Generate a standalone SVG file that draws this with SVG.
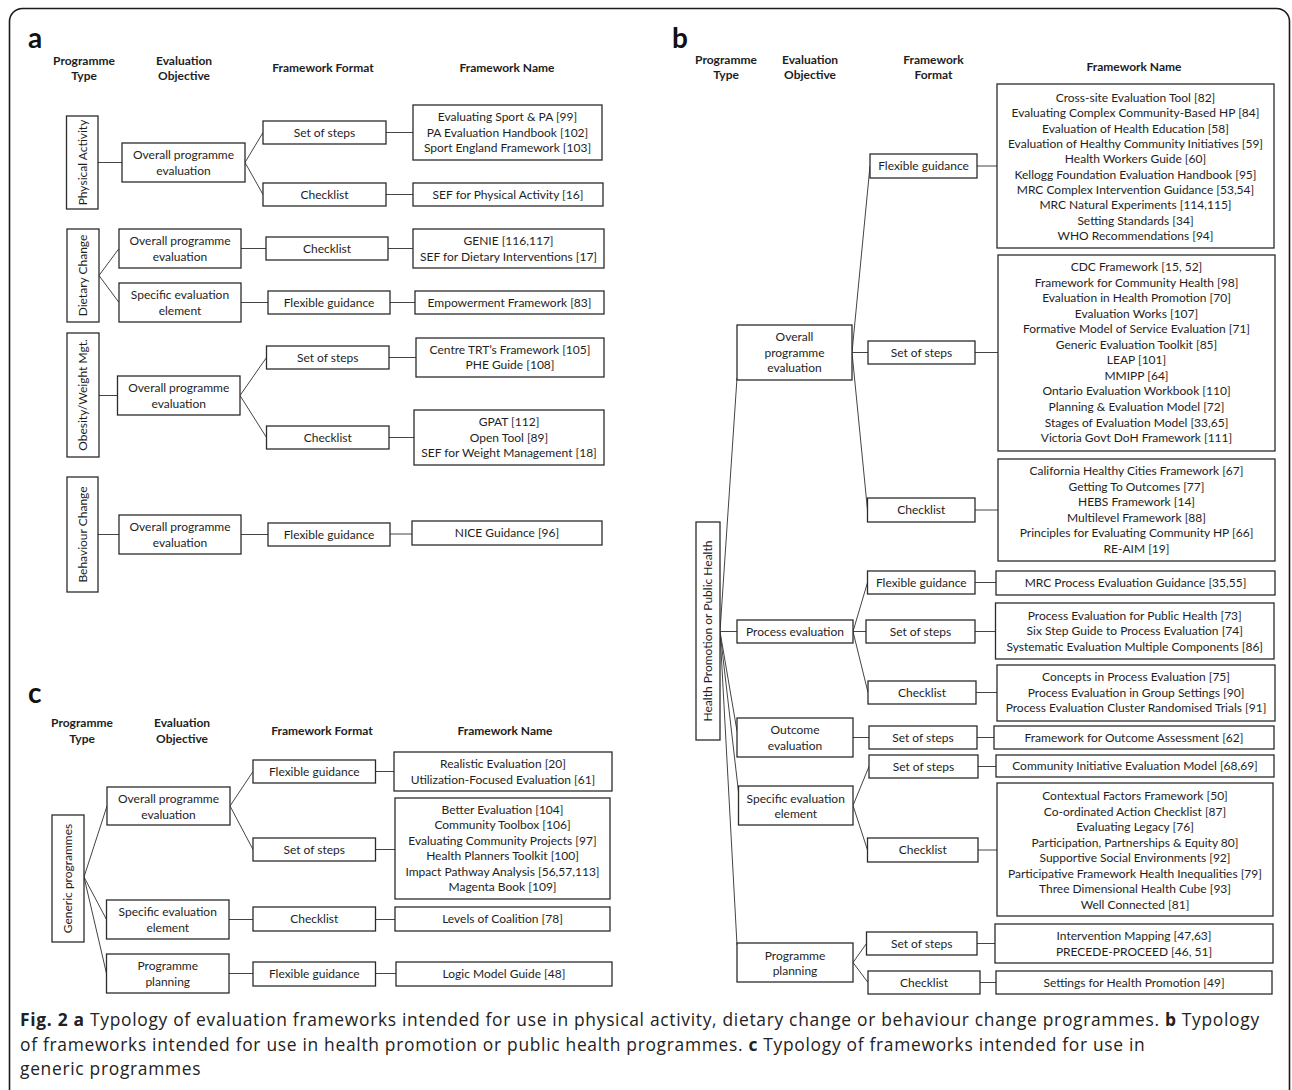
<svg xmlns="http://www.w3.org/2000/svg" width="1292" height="1090" viewBox="0 0 1292 1090">
<style>
.bg{fill:#ffffff}
.frame{fill:none;stroke:#1a1a1a;stroke-width:1.6}
.box{fill:#ffffff;stroke:#2b2b2b;stroke-width:1.3}
.t{font-family:Lato,"Liberation Sans",sans-serif;font-size:12px;fill:#1e1e1e;text-anchor:middle}
.h{font-family:Lato,"Liberation Sans",sans-serif;font-size:12px;font-weight:bold;fill:#1e1e1e;text-anchor:middle}
.lbl{font-family:Lato,"Liberation Sans",sans-serif;font-size:28px;font-weight:bold;fill:#111}
.cap{font-family:"Open Sans","Noto Sans",sans-serif;font-size:17.4px;letter-spacing:0.7px;fill:#222}
.capb{font-weight:bold}
.conn line{stroke:#444;stroke-width:1;fill:none}
</style>
<rect class="bg" x="0" y="0" width="1292" height="1090"/>
<rect class="frame" x="9.5" y="8.5" width="1280" height="1100" rx="13"/>

<!-- ===== Panel a ===== -->
<g id="panel-a-headers">
<text class="lbl" x="28" y="48">a</text>
<text class="h" x="84" y="65">Programme<tspan x="84" dy="15">Type</tspan></text>
<text class="h" x="184" y="65">Evaluation<tspan x="184" dy="15">Objective</tspan></text>
<text class="h" x="323" y="72">Framework Format</text>
<text class="h" x="507" y="72">Framework Name</text>
</g>

<g class="conn" id="connectors-a">
<line x1="98" y1="162.5" x2="122" y2="162.5"/>
<line x1="245" y1="162.5" x2="263" y2="132.5"/>
<line x1="245" y1="162.5" x2="263" y2="194.5"/>
<line x1="386" y1="132.5" x2="413" y2="132.5"/>
<line x1="386" y1="194.5" x2="413" y2="194.5"/>
<line x1="99" y1="275.5" x2="119" y2="248.5"/>
<line x1="99" y1="275.5" x2="119" y2="302.5"/>
<line x1="241" y1="248.5" x2="266" y2="248.5"/>
<line x1="388" y1="248.5" x2="413" y2="248.5"/>
<line x1="241" y1="302.5" x2="268" y2="302.5"/>
<line x1="390" y1="302.5" x2="415" y2="302.5"/>
<line x1="99" y1="395.5" x2="117.5" y2="395.5"/>
<line x1="240" y1="395.5" x2="266.5" y2="357.5"/>
<line x1="240" y1="395.5" x2="266.5" y2="437.5"/>
<line x1="389" y1="357.5" x2="416" y2="357.5"/>
<line x1="389" y1="437.5" x2="414" y2="437.5"/>
<line x1="98" y1="534.5" x2="119" y2="534.5"/>
<line x1="241" y1="534.5" x2="268" y2="534.5"/>
<line x1="390" y1="534" x2="412" y2="534"/>
</g>

<g id="a-pa-type"><rect class="box" x="66.5" y="116" width="31.5" height="93"/><text class="t" transform="translate(86.5,162.5) rotate(-90)">Physical Activity</text></g>
<g id="a-pa-overall"><rect class="box" x="122" y="143" width="123" height="39"/><text class="t" x="183.5" y="159">Overall programme<tspan x="183.5" dy="15.5">evaluation</tspan></text></g>
<g id="a-pa-steps"><rect class="box" x="263" y="121" width="123" height="23"/><text class="t" x="324.5" y="136.5">Set of steps</text></g>
<g id="a-pa-checklist"><rect class="box" x="263" y="183" width="123" height="23"/><text class="t" x="324.5" y="198.5">Checklist</text></g>
<g id="a-pa-names1"><rect class="box" x="413" y="105" width="189" height="55"/><text class="t" x="507.5" y="121">Evaluating Sport &amp; PA [99]<tspan x="507.5" dy="15.5">PA Evaluation Handbook [102]</tspan><tspan x="507.5" dy="15.5">Sport England Framework [103]</tspan></text></g>
<g id="a-pa-names2"><rect class="box" x="413" y="183" width="190" height="23"/><text class="t" x="508" y="198.5">SEF for Physical Activity [16]</text></g>

<g id="a-diet-type"><rect class="box" x="67" y="229" width="32" height="93"/><text class="t" transform="translate(87,275.5) rotate(-90)">Dietary Change</text></g>
<g id="a-diet-overall"><rect class="box" x="119" y="229" width="122" height="39"/><text class="t" x="180" y="245">Overall programme<tspan x="180" dy="15.5">evaluation</tspan></text></g>
<g id="a-diet-checklist"><rect class="box" x="266" y="237" width="122" height="23"/><text class="t" x="327" y="252.5">Checklist</text></g>
<g id="a-diet-names1"><rect class="box" x="413" y="229" width="191" height="39"/><text class="t" x="508.5" y="245">GENIE [116,117]<tspan x="508.5" dy="15.5">SEF for Dietary Interventions [17]</tspan></text></g>
<g id="a-diet-specific"><rect class="box" x="119" y="283" width="122" height="39"/><text class="t" x="180" y="299">Specific evaluation<tspan x="180" dy="15.5">element</tspan></text></g>
<g id="a-diet-flexible"><rect class="box" x="268" y="291" width="122" height="23"/><text class="t" x="329" y="306.5">Flexible guidance</text></g>
<g id="a-diet-names2"><rect class="box" x="415" y="291" width="189" height="23"/><text class="t" x="509.5" y="306.5">Empowerment Framework [83]</text></g>

<g id="a-ob-type"><rect class="box" x="67" y="333" width="32" height="124"/><text class="t" transform="translate(87,395) rotate(-90)">Obesity/Weight Mgt.</text></g>
<g id="a-ob-overall"><rect class="box" x="117.5" y="376" width="122.5" height="39"/><text class="t" x="178.75" y="392">Overall programme<tspan x="178.75" dy="15.5">evaluation</tspan></text></g>
<g id="a-ob-steps"><rect class="box" x="266.5" y="346" width="122.5" height="23"/><text class="t" x="327.75" y="361.5">Set of steps</text></g>
<g id="a-ob-checklist"><rect class="box" x="266.5" y="426" width="122.5" height="23"/><text class="t" x="327.75" y="441.5">Checklist</text></g>
<g id="a-ob-names1"><rect class="box" x="416" y="338" width="188" height="39"/><text class="t" x="510" y="353.5">Centre TRT’s Framework [105]<tspan x="510" dy="15.5">PHE Guide [108]</tspan></text></g>
<g id="a-ob-names2"><rect class="box" x="414" y="410" width="190" height="55"/><text class="t" x="509" y="426">GPAT [112]<tspan x="509" dy="15.5">Open Tool [89]</tspan><tspan x="509" dy="15.5">SEF for Weight Management [18]</tspan></text></g>

<g id="a-beh-type"><rect class="box" x="67" y="477" width="31" height="115"/><text class="t" transform="translate(86.5,534.5) rotate(-90)">Behaviour Change</text></g>
<g id="a-beh-overall"><rect class="box" x="119" y="515" width="122" height="39"/><text class="t" x="180" y="531">Overall programme<tspan x="180" dy="15.5">evaluation</tspan></text></g>
<g id="a-beh-flexible"><rect class="box" x="268" y="523" width="122" height="23"/><text class="t" x="329" y="538.5">Flexible guidance</text></g>
<g id="a-beh-names"><rect class="box" x="412" y="521" width="190" height="24"/><text class="t" x="507" y="537">NICE Guidance [96]</text></g>

<!-- ===== Panel c ===== -->
<g id="panel-c-headers">
<text class="lbl" x="28" y="703">c</text>
<text class="h" x="82" y="727">Programme<tspan x="82" dy="15.5">Type</tspan></text>
<text class="h" x="182" y="727">Evaluation<tspan x="182" dy="15.5">Objective</tspan></text>
<text class="h" x="322" y="735">Framework Format</text>
<text class="h" x="505" y="735">Framework Name</text>
</g>

<g class="conn" id="connectors-c">
<line x1="84" y1="877" x2="107" y2="806"/>
<line x1="84" y1="877" x2="106.5" y2="919.5"/>
<line x1="84" y1="877" x2="106.5" y2="973.5"/>
<line x1="230" y1="806" x2="253" y2="771.5"/>
<line x1="230" y1="806" x2="253" y2="849.5"/>
<line x1="375.5" y1="771.5" x2="394" y2="771.5"/>
<line x1="375.5" y1="849.5" x2="395" y2="849.5"/>
<line x1="229" y1="919.5" x2="253" y2="919.5"/>
<line x1="375.5" y1="919.5" x2="395" y2="919.5"/>
<line x1="229" y1="973.5" x2="253" y2="973.5"/>
<line x1="375.5" y1="973.5" x2="396" y2="973.5"/>
</g>

<g id="c-type"><rect class="box" x="52" y="815" width="32" height="127"/><text class="t" transform="translate(72,878.5) rotate(-90)">Generic programmes</text></g>
<g id="c-overall"><rect class="box" x="107" y="787" width="123" height="38"/><text class="t" x="168.5" y="803">Overall programme<tspan x="168.5" dy="15.5">evaluation</tspan></text></g>
<g id="c-flexible1"><rect class="box" x="253" y="760" width="122.5" height="23"/><text class="t" x="314.25" y="775.5">Flexible guidance</text></g>
<g id="c-names1"><rect class="box" x="394" y="752" width="218" height="39"/><text class="t" x="503" y="768">Realistic Evaluation [20]<tspan x="503" dy="15.5">Utilization-Focused Evaluation [61]</tspan></text></g>
<g id="c-steps"><rect class="box" x="253" y="838" width="122.5" height="23"/><text class="t" x="314.25" y="853.5">Set of steps</text></g>
<g id="c-names2"><rect class="box" x="395" y="798" width="215" height="101"/><text class="t" x="502.5" y="813.5">Better Evaluation [104]<tspan x="502.5" dy="15.5">Community Toolbox [106]</tspan><tspan x="502.5" dy="15.5">Evaluating Community Projects [97]</tspan><tspan x="502.5" dy="15.5">Health Planners Toolkit [100]</tspan><tspan x="502.5" dy="15.5">Impact Pathway Analysis [56,57,113]</tspan><tspan x="502.5" dy="15.5">Magenta Book [109]</tspan></text></g>
<g id="c-specific"><rect class="box" x="106.5" y="900" width="122.5" height="39"/><text class="t" x="167.75" y="916">Specific evaluation<tspan x="167.75" dy="15.5">element</tspan></text></g>
<g id="c-checklist"><rect class="box" x="253" y="907" width="122.5" height="24"/><text class="t" x="314.25" y="923">Checklist</text></g>
<g id="c-names3"><rect class="box" x="395" y="907" width="215" height="24"/><text class="t" x="502.5" y="923">Levels of Coalition [78]</text></g>
<g id="c-planning"><rect class="box" x="106.5" y="954" width="122.5" height="39"/><text class="t" x="167.75" y="970">Programme<tspan x="167.75" dy="15.5">planning</tspan></text></g>
<g id="c-flexible2"><rect class="box" x="253" y="962" width="122.5" height="24"/><text class="t" x="314.25" y="978">Flexible guidance</text></g>
<g id="c-names4"><rect class="box" x="396" y="962" width="216" height="24"/><text class="t" x="504" y="978">Logic Model Guide [48]</text></g>

<!-- ===== Panel b ===== -->
<g id="panel-b-headers">
<text class="lbl" x="672" y="48">b</text>
<text class="h" x="726" y="64">Programme<tspan x="726" dy="15">Type</tspan></text>
<text class="h" x="810" y="64">Evaluation<tspan x="810" dy="15">Objective</tspan></text>
<text class="h" x="933.5" y="64">Framework<tspan x="933.5" dy="15">Format</tspan></text>
<text class="h" x="1134" y="71">Framework Name</text>
</g>

<g class="conn" id="connectors-b">
<line x1="720" y1="631.5" x2="737" y2="378"/>
<line x1="720" y1="631.5" x2="737" y2="631.5"/>
<line x1="720" y1="631.5" x2="737" y2="731"/>
<line x1="720" y1="631.5" x2="738.5" y2="792"/>
<line x1="720" y1="631.5" x2="737" y2="945"/>
<line x1="852" y1="352.5" x2="870" y2="166"/>
<line x1="852" y1="352.5" x2="868" y2="352.5"/>
<line x1="852" y1="352.5" x2="867.5" y2="510"/>
<line x1="977" y1="166" x2="997" y2="166"/>
<line x1="975" y1="352.5" x2="998" y2="352.5"/>
<line x1="975" y1="510" x2="998" y2="510"/>
<line x1="853" y1="631.5" x2="867.5" y2="582.5"/>
<line x1="853" y1="631.5" x2="866" y2="631.5"/>
<line x1="853" y1="631.5" x2="868" y2="692.5"/>
<line x1="975" y1="582.5" x2="996" y2="582.5"/>
<line x1="975" y1="631.5" x2="995.5" y2="631.5"/>
<line x1="976" y1="692.5" x2="997" y2="692.5"/>
<line x1="853" y1="737.5" x2="869" y2="737.5"/>
<line x1="977" y1="737.5" x2="994" y2="737.5"/>
<line x1="853" y1="805.5" x2="869" y2="766.5"/>
<line x1="853" y1="805.5" x2="867.5" y2="850"/>
<line x1="978" y1="766.5" x2="996" y2="766.5"/>
<line x1="978" y1="850" x2="997" y2="850"/>
<line x1="853" y1="962.5" x2="866.5" y2="943.5"/>
<line x1="853" y1="962.5" x2="868" y2="982.5"/>
<line x1="977" y1="943.5" x2="995" y2="943.5"/>
<line x1="980" y1="982.5" x2="996" y2="982.5"/>
</g>

<g id="b-type"><rect class="box" x="696" y="522" width="24" height="218"/><text class="t" transform="translate(712,631) rotate(-90)">Health Promotion or Public Health</text></g>

<g id="b-overall"><rect class="box" x="737" y="325" width="115" height="55"/><text class="t" x="794.5" y="341">Overall<tspan x="794.5" dy="15.5">programme</tspan><tspan x="794.5" dy="15.5">evaluation</tspan></text></g>
<g id="b-ov-flexible"><rect class="box" x="870" y="154" width="107" height="24"/><text class="t" x="923.5" y="170">Flexible guidance</text></g>
<g id="b-ov-names1"><rect class="box" x="997" y="84" width="277" height="164"/><text class="t" x="1135.5" y="102">Cross-site Evaluation Tool [82]<tspan x="1135.5" dy="15.35">Evaluating Complex Community-Based HP [84]</tspan><tspan x="1135.5" dy="15.35">Evaluation of Health Education [58]</tspan><tspan x="1135.5" dy="15.35">Evaluation of Healthy Community Initiatives [59]</tspan><tspan x="1135.5" dy="15.35">Health Workers Guide [60]</tspan><tspan x="1135.5" dy="15.35">Kellogg Foundation Evaluation Handbook [95]</tspan><tspan x="1135.5" dy="15.35">MRC Complex Intervention Guidance [53,54]</tspan><tspan x="1135.5" dy="15.35">MRC Natural Experiments [114,115]</tspan><tspan x="1135.5" dy="15.35">Setting Standards [34]</tspan><tspan x="1135.5" dy="15.35">WHO Recommendations [94]</tspan></text></g>
<g id="b-ov-steps"><rect class="box" x="868" y="341" width="107" height="23"/><text class="t" x="921.5" y="356.5">Set of steps</text></g>
<g id="b-ov-names2"><rect class="box" x="998" y="255" width="277" height="196"/><text class="t" x="1136.5" y="271">CDC Framework [15, 52]<tspan x="1136.5" dy="15.55">Framework for Community Health [98]</tspan><tspan x="1136.5" dy="15.55">Evaluation in Health Promotion [70]</tspan><tspan x="1136.5" dy="15.55">Evaluation Works [107]</tspan><tspan x="1136.5" dy="15.55">Formative Model of Service Evaluation [71]</tspan><tspan x="1136.5" dy="15.55">Generic Evaluation Toolkit [85]</tspan><tspan x="1136.5" dy="15.55">LEAP [101]</tspan><tspan x="1136.5" dy="15.55">MMIPP [64]</tspan><tspan x="1136.5" dy="15.55">Ontario Evaluation Workbook [110]</tspan><tspan x="1136.5" dy="15.55">Planning &amp; Evaluation Model [72]</tspan><tspan x="1136.5" dy="15.55">Stages of Evaluation Model [33,65]</tspan><tspan x="1136.5" dy="15.55">Victoria Govt DoH Framework [111]</tspan></text></g>
<g id="b-ov-checklist"><rect class="box" x="867.5" y="498" width="107.5" height="24"/><text class="t" x="921.25" y="514">Checklist</text></g>
<g id="b-ov-names3"><rect class="box" x="998" y="459" width="277" height="102"/><text class="t" x="1136.5" y="475">California Healthy Cities Framework [67]<tspan x="1136.5" dy="15.6">Getting To Outcomes [77]</tspan><tspan x="1136.5" dy="15.6">HEBS Framework [14]</tspan><tspan x="1136.5" dy="15.6">Multilevel Framework [88]</tspan><tspan x="1136.5" dy="15.6">Principles for Evaluating Community HP [66]</tspan><tspan x="1136.5" dy="15.6">RE-AIM [19]</tspan></text></g>

<g id="b-process"><rect class="box" x="737" y="620" width="116" height="23"/><text class="t" x="795" y="635.5">Process evaluation</text></g>
<g id="b-pr-flexible"><rect class="box" x="867.5" y="571" width="107.5" height="23"/><text class="t" x="921.25" y="586.5">Flexible guidance</text></g>
<g id="b-pr-names1"><rect class="box" x="996" y="571" width="279" height="24"/><text class="t" x="1135.5" y="587">MRC Process Evaluation Guidance [35,55]</text></g>
<g id="b-pr-steps"><rect class="box" x="866" y="620" width="109" height="23"/><text class="t" x="920.5" y="635.5">Set of steps</text></g>
<g id="b-pr-names2"><rect class="box" x="995.5" y="603" width="278.5" height="56"/><text class="t" x="1134.75" y="620">Process Evaluation for Public Health [73]<tspan x="1134.75" dy="15.35">Six Step Guide to Process Evaluation [74]</tspan><tspan x="1134.75" dy="15.35">Systematic Evaluation Multiple Components [86]</tspan></text></g>
<g id="b-pr-checklist"><rect class="box" x="868" y="681" width="108" height="23"/><text class="t" x="922" y="696.5">Checklist</text></g>
<g id="b-pr-names3"><rect class="box" x="997" y="665" width="278" height="56"/><text class="t" x="1136" y="681.3">Concepts in Process Evaluation [75]<tspan x="1136" dy="15.35">Process Evaluation in Group Settings [90]</tspan><tspan x="1136" dy="15.35">Process Evaluation Cluster Randomised Trials [91]</tspan></text></g>

<g id="b-outcome"><rect class="box" x="737" y="718" width="116" height="39"/><text class="t" x="795" y="734.3">Outcome<tspan x="795" dy="15.4">evaluation</tspan></text></g>
<g id="b-out-steps"><rect class="box" x="869" y="726" width="108" height="23"/><text class="t" x="923" y="741.5">Set of steps</text></g>
<g id="b-out-names"><rect class="box" x="994" y="726" width="280" height="23"/><text class="t" x="1134" y="741.5">Framework for Outcome Assessment [62]</text></g>

<g id="b-specific"><rect class="box" x="738.5" y="786" width="114.5" height="39"/><text class="t" x="795.75" y="802.7">Specific evaluation<tspan x="795.75" dy="15.3">element</tspan></text></g>
<g id="b-sp-steps"><rect class="box" x="869" y="755" width="109" height="23"/><text class="t" x="923.5" y="770.5">Set of steps</text></g>
<g id="b-sp-names1"><rect class="box" x="996" y="755" width="278" height="22"/><text class="t" x="1135" y="770">Community Initiative Evaluation Model [68,69]</text></g>
<g id="b-sp-checklist"><rect class="box" x="867.5" y="838" width="110.5" height="24"/><text class="t" x="922.75" y="854">Checklist</text></g>
<g id="b-sp-names2"><rect class="box" x="997" y="783" width="276" height="133"/><text class="t" x="1135" y="800">Contextual Factors Framework [50]<tspan x="1135" dy="15.5">Co-ordinated Action Checklist [87]</tspan><tspan x="1135" dy="15.5">Evaluating Legacy [76]</tspan><tspan x="1135" dy="15.5">Participation, Partnerships &amp; Equity 80]</tspan><tspan x="1135" dy="15.5">Supportive Social Environments [92]</tspan><tspan x="1135" dy="15.5">Participative Framework Health Inequalities [79]</tspan><tspan x="1135" dy="15.5">Three Dimensional Health Cube [93]</tspan><tspan x="1135" dy="15.5">Well Connected [81]</tspan></text></g>

<g id="b-planning"><rect class="box" x="737" y="943" width="116" height="39"/><text class="t" x="795" y="959.7">Programme<tspan x="795" dy="15.3">planning</tspan></text></g>
<g id="b-pl-steps"><rect class="box" x="866.5" y="932" width="110.5" height="23"/><text class="t" x="921.75" y="947.5">Set of steps</text></g>
<g id="b-pl-names1"><rect class="box" x="995" y="924" width="278" height="39"/><text class="t" x="1134" y="940">Intervention Mapping [47,63]<tspan x="1134" dy="16">PRECEDE-PROCEED [46, 51]</tspan></text></g>
<g id="b-pl-checklist"><rect class="box" x="868" y="971" width="112" height="23"/><text class="t" x="924" y="986.5">Checklist</text></g>
<g id="b-pl-names2"><rect class="box" x="996" y="971" width="276" height="23"/><text class="t" x="1134" y="986.5">Settings for Health Promotion [49]</text></g>

<!-- ===== Caption ===== -->
<g id="caption">
<text class="cap" x="20" y="1026"><tspan class="capb">Fig. 2 a</tspan> Typology of evaluation frameworks intended for use in physical activity, dietary change or behaviour change programmes. <tspan class="capb">b</tspan> Typology</text>
<text class="cap" x="20" y="1050.5">of frameworks intended for use in health promotion or public health programmes. <tspan class="capb">c</tspan> Typology of frameworks intended for use in</text>
<text class="cap" x="20" y="1075">generic programmes</text>
</g>
</svg>
